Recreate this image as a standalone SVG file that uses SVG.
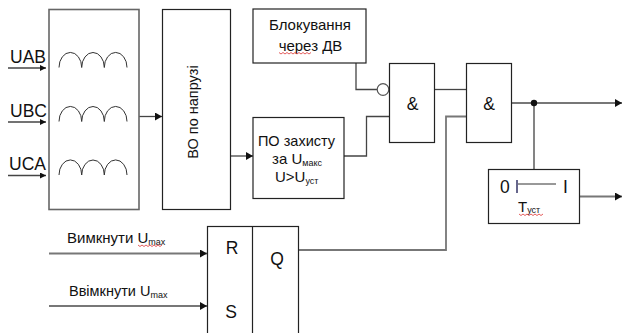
<svg xmlns="http://www.w3.org/2000/svg" width="623" height="333" viewBox="0 0 623 333">
<style>
text{font-family:"Liberation Sans",Arial,sans-serif;fill:#111}
.box{fill:#fff;stroke:#222;stroke-width:1.2}
.gbox{fill:#fff;stroke:#666;stroke-width:1.6}
.c{fill:none;stroke:#444;stroke-width:1.3}
.g{fill:none;stroke:#777;stroke-width:1.8}
.coil{fill:none;stroke:#333;stroke-width:1}
.w{fill:none;stroke:#d33;stroke-width:.8}
.s{font-size:15px}
.m{font-size:14.5px}
.sub{font-size:9px}
.in{font-size:17.5px}
.mid{text-anchor:middle}
</style>
<defs>
<marker id="a" markerUnits="userSpaceOnUse" markerWidth="8" markerHeight="9" refX="7" refY="4" orient="auto"><path d="M0 0L7 4L0 8Z" fill="#111"/></marker>
<marker id="b" markerUnits="userSpaceOnUse" markerWidth="7" markerHeight="7" refX="6" refY="3" orient="auto"><path d="M0 0L6 3L0 6Z" fill="#111"/></marker>
<path id="coil" d="M59 0A11.300 15 0 0 1 81.700 0A11.300 15 0 0 1 104.300 0A11.300 15 0 0 1 127 0"/>
</defs>
<g id="connectors">
<path class="c" d="M8 68H46" marker-end="url(#b)"/>
<path class="c" d="M8 122H46" marker-end="url(#b)"/>
<path class="c" d="M8 175.500H46" marker-end="url(#b)"/>
<path class="c" d="M139 116.500H162" marker-end="url(#a)"/>
<path class="c" d="M230 156H253" marker-end="url(#a)"/>
<path class="c" d="M356 63V89.500H378"/>
<path class="c" d="M344 156H366.500V116.500H389"/>
<path class="c" d="M434 89.500H466"/>
<path class="g" d="M298 250H446V116.500H466"/>
<path class="g" d="M511 103H622" marker-end="url(#a)"/>
<path class="g" d="M534 103V169"/>
<circle cx="534" cy="103" r="3.200" fill="#111"/>
<path class="g" d="M579 196.500H622" marker-end="url(#a)"/>
<path class="g" d="M49 253.500H207" marker-end="url(#a)"/>
<path class="g" d="M49 306H207" marker-end="url(#a)"/>
</g>
<g id="transformer">
<rect class="gbox" x="49" y="9.500" width="90" height="200"/>
<use href="#coil" class="coil" y="67.500"/>
<use href="#coil" class="coil" y="121.500"/>
<use href="#coil" class="coil" y="175"/>
</g>
<g id="inputs">
<text class="in" x="10" y="63">UAB</text>
<text class="in" x="10" y="117">UBC</text>
<text class="in" x="9" y="170">UCA</text>
</g>
<g id="vo">
<rect class="box" x="162.500" y="9.500" width="68" height="200"/>
<text class="m mid" transform="translate(198 112) rotate(-90)">ВО по напрузі</text>
</g>
<g id="block">
<rect class="box" x="253" y="9" width="113" height="54"/>
<text class="s mid" x="310" y="30">Блокування</text>
<text class="s mid" x="310.500" y="51">через ДВ</text>
<path class="w" d="M279 52.500l2 1.500 2-1.500 2 1.500 2-1.500 2 1.500 2-1.500 2 1.500 2-1.500 2 1.500 2-1.500 2 1.500 2-1.500 2 1.500 2-1.500 2 1.500 2-1.500"/>
</g>
<g id="po">
<rect class="box" x="253" y="117.500" width="91" height="81"/>
<text class="m mid" x="296.500" y="146">ПО захисту</text>
<text class="s" x="272" y="164">за U<tspan class="sub" dy="2">макс</tspan></text>
<text class="s" x="275" y="182">U&gt;U<tspan class="sub" dy="2">уст</tspan></text>
</g>
<g id="not">
<circle cx="383" cy="89.500" r="5.800" fill="#fff" stroke="#555" stroke-width="1.200"/>
</g>
<g id="and1">
<rect class="box" x="389.500" y="63.500" width="45" height="79"/>
<text class="in mid" x="412.500" y="110">&amp;</text>
</g>
<g id="and2">
<rect class="box" x="466.500" y="63.500" width="45" height="79"/>
<text class="in mid" x="489" y="110">&amp;</text>
</g>
<g id="timer">
<rect class="box" x="488.500" y="169.500" width="91" height="54"/>
<text class="in" x="500" y="193" fill="#333">0</text>
<path d="M517 180V193" stroke="#336" stroke-width="1.500"/>
<path d="M518 184H556" stroke="#333" stroke-width="1"/>
<text class="in" x="563" y="193">I</text>
<text class="s" x="518" y="212">Т<tspan class="sub" dy="1">уст</tspan></text>
<path class="w" d="M519 214l2 1.500 2-1.500 2 1.500 2-1.500 2 1.500 2-1.500 2 1.500 2-1.500 2 1.500 2-1.500 2 1.500 2-1.500"/>
</g>
<g id="rs">
<rect class="box" x="207.500" y="226.500" width="91" height="110"/>
<path class="box" d="M252.500 226.500V336"/>
<text class="in mid" x="232" y="254">R</text>
<text class="in mid" x="231" y="318">S</text>
<text class="in mid" x="277" y="265">Q</text>
</g>
<g id="labels">
<text class="s" x="67" y="243">Вимкнути U<tspan class="sub" dy="2">max</tspan></text>
<text class="m" x="69" y="296">Ввімкнути U<tspan class="sub" dy="2">max</tspan></text>
<path class="w" d="M138 245l2 1.500 2-1.500 2 1.500 2-1.500 2 1.500 2-1.500 2 1.500 2-1.500 2 1.500 2-1.500 2 1.500 2-1.500"/>
</g>
</svg>
